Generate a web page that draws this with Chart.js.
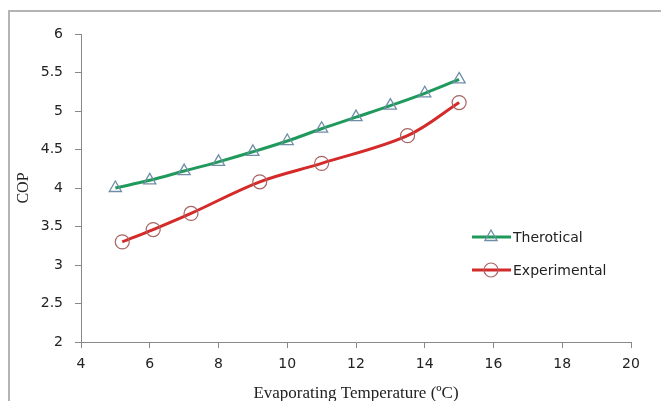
<!DOCTYPE html>
<html>
<head>
<meta charset="utf-8">
<script src="https://cdn.jsdelivr.net/npm/chart.js@4.4.1/dist/chart.umd.min.js"></script>
<style>
    html, body { margin: 0; padding: 0; background: #fff; }
    #wrap { width: 661px; height: 401px; position: relative; }
</style>
</head>
<body>
<div id="wrap"><canvas id="cop-chart" width="661" height="401"></canvas></div>
<script>
// Données
const theoTemps = [5, 6, 7, 8, 9, 10, 11, 12, 13, 14, 15];
const theoCop = [4.0, 4.1, 4.22, 4.34, 4.47, 4.61, 4.77, 4.92, 5.07, 5.23, 5.41];
const expTemps = [5.2, 6.1, 7.2, 9.2, 11, 13.5, 15];
const expCop = [3.3, 3.46, 3.67, 4.08, 4.32, 4.68, 5.11];
const seriesNames = ['Therotical', 'Experimental'];
const xTitle = 'Evaporating Temperature (ºC)';
const yTitle = 'COP';

// Cadre gris autour du graphique
const framePlugin = {
    id: 'frame',
    beforeDraw(chart) {
        const ctx = chart.ctx;
        ctx.save();
        ctx.strokeStyle = '#b4b4b4';
        ctx.lineWidth = 2;
        ctx.strokeRect(9, 11, 700, 450);
        ctx.restore();
    }
};

// Légende dessinée dans la zone du graphique
const insideLegend = {
    id: 'insideLegend',
    afterDraw(chart) {
        const ctx = chart.ctx;
        const rows = [237, 270];
        chart.data.datasets.forEach((ds, i) => {
            const y = rows[i];
            ctx.save();
            ctx.strokeStyle = ds.borderColor;
            ctx.lineWidth = ds.borderWidth;
            ctx.beginPath();
            ctx.moveTo(472, y);
            ctx.lineTo(511, y);
            ctx.stroke();
            ctx.strokeStyle = ds.pointBorderColor;
            ctx.fillStyle = 'rgba(255,255,255,0)';
            ctx.lineWidth = ds.pointBorderWidth;
            Chart.helpers.drawPoint(ctx, {
                pointStyle: ds.pointStyle,
                radius: ds.pointRadius,
                borderWidth: ds.pointBorderWidth,
                rotation: 0
            }, 491, y);
            ctx.fillStyle = '#222';
            ctx.font = '14px "DejaVu Sans"';
            ctx.textBaseline = 'middle';
            ctx.fillText(seriesNames[i], 513, y + 1);
            ctx.restore();
        });
    }
};

new Chart(document.getElementById('cop-chart'), {
    type: 'scatter',
    data: {
        datasets: [{
            label: seriesNames[0],
            data: theoTemps.map((t, i) => ({ x: t, y: theoCop[i] })),
            showLine: true,
            borderColor: '#1f9a5c',
            borderWidth: 3,
            tension: 0.35,
            pointStyle: 'triangle',
            pointRadius: 7,
            pointBorderColor: '#6f8ea6',
            pointBorderWidth: 1.3,
            pointBackgroundColor: 'rgba(255,255,255,0)'
        }, {
            label: seriesNames[1],
            data: expTemps.map((t, i) => ({ x: t, y: expCop[i] })),
            showLine: true,
            borderColor: '#d42a2a',
            borderWidth: 3,
            tension: 0.35,
            pointStyle: 'circle',
            pointRadius: 7,
            pointBorderColor: '#a86464',
            pointBorderWidth: 1.2,
            pointBackgroundColor: 'rgba(255,255,255,0)'
        }]
    },
    options: {
        responsive: false,
        animation: false,
        layout: { padding: { left: 0, top: 34, right: 30, bottom: 0 } },
        plugins: {
            legend: { display: false },
            tooltip: { enabled: false }
        },
        scales: {
            x: {
                type: 'linear',
                min: 4,
                max: 20,
                ticks: {
                    stepSize: 2,
                    color: '#222',
                    padding: 8,
                    font: { family: '"DejaVu Sans"', size: 14 }
                },
                grid: { drawOnChartArea: false, tickLength: 6, color: '#888' },
                border: { color: '#888', width: 1 },
                title: {
                    display: true,
                    text: xTitle,
                    color: '#222',
                    padding: { top: 0, bottom: -3 },
                    font: { family: '"Liberation Serif"', size: 17 }
                },
                afterFit(scale) { scale.height = 59; }
            },
            y: {
                type: 'linear',
                min: 2,
                max: 6,
                ticks: {
                    stepSize: 0.5,
                    color: '#222',
                    padding: 12,
                    font: { family: '"DejaVu Sans"', size: 14 },
                    callback: v => String(v)
                },
                grid: { drawOnChartArea: false, tickLength: 6, color: '#888' },
                border: { color: '#888', width: 1 },
                title: {
                    display: true,
                    text: yTitle,
                    color: '#222',
                    padding: { top: 14, bottom: 0 },
                    font: { family: '"Liberation Serif"', size: 16 }
                },
                afterFit(scale) { scale.width = 81; }
            }
        }
    },
    plugins: [framePlugin, insideLegend]
});
</script>
</body>
</html>
